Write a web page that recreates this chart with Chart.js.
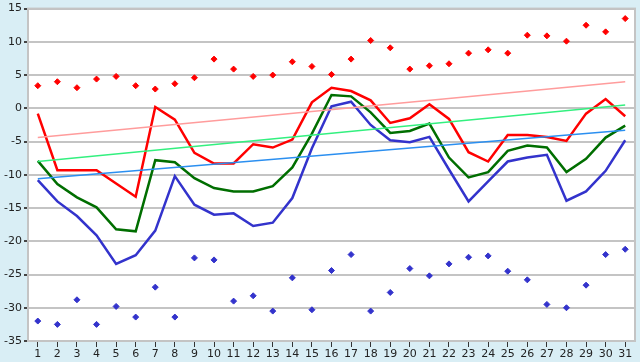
<!DOCTYPE html>
<html>
<head>
<meta charset="utf-8">
<script src="https://cdn.jsdelivr.net/npm/chart.js@4/dist/chart.umd.min.js"></script>
<style>
  html, body { margin: 0; padding: 0; background: #d9eef5; }
  #wrap { width: 640px; height: 362px; position: relative; }
</style>
</head>
<body>
<div id="wrap"><canvas id="grafica"></canvas></div>
<script>
// --- DATOS ---
const dias = [1,2,3,4,5,6,7,8,9,10,11,12,13,14,15,16,17,18,19,20,21,22,23,24,25,26,27,28,29,30,31];
const yTicks = [-35,-30,-25,-20,-15,-10,-5,0,5,10,15];

const maxima = [-0.8,-9.3,-9.3,-9.3,-11.3,-13.3,0.2,-1.7,-6.7,-8.3,-8.3,-5.4,-5.9,-4.7,0.9,3.1,2.6,1.2,-2.2,-1.5,0.6,-1.6,-6.6,-8.0,-4.0,-4.0,-4.3,-4.9,-0.8,1.4,-1.2];
const media  = [-7.9,-11.4,-13.4,-14.9,-18.2,-18.5,-7.8,-8.1,-10.5,-12.0,-12.5,-12.5,-11.7,-8.9,-3.8,2.0,1.8,-0.6,-3.7,-3.4,-2.3,-7.4,-10.4,-9.6,-6.4,-5.6,-5.9,-9.6,-7.6,-4.4,-2.6];
const minima = [-10.8,-14.0,-16.2,-19.1,-23.4,-22.1,-18.4,-10.2,-14.5,-16.0,-15.8,-17.7,-17.2,-13.5,-6.0,0.3,1.0,-2.5,-4.8,-5.1,-4.3,-9.2,-14.0,-11.0,-8.0,-7.4,-7.0,-13.9,-12.5,-9.4,-4.8];
const recordMax = [3.4,4.0,3.1,4.4,4.8,3.4,2.9,3.7,4.6,7.4,5.9,4.8,5.0,7.0,6.3,5.1,7.4,10.2,9.1,5.9,6.4,6.7,8.3,8.8,8.3,11.0,10.9,10.1,12.5,11.5,13.5];
const recordMin = [-32.0,-32.5,-28.8,-32.5,-29.8,-31.4,-26.9,-31.4,-22.5,-22.8,-29.0,-28.2,-30.5,-25.5,-30.3,-24.4,-22.0,-30.5,-27.7,-24.1,-25.2,-23.4,-22.4,-22.2,-24.5,-25.8,-29.5,-30.0,-26.6,-22.0,-21.2];

// tendencias: solo extremos (dia 1 y dia 31)
const tendMax   = [-4.4, 4.0];
const tendMedia = [-8.0, 0.5];
const tendMin   = [-10.6, -3.3];

function extremos(par) {
    const arr = Array(dias.length).fill(null);
    arr[0] = par[0];
    arr[dias.length - 1] = par[1];
    return arr;
}

// fondo blanco y marco del area de trazado
const marcoPlugin = {
    id: 'marco',
    beforeDraw(chart) {
        const { ctx, chartArea: a } = chart;
        ctx.save();
        ctx.fillStyle = '#ffffff';
        ctx.fillRect(a.left, a.top, a.right - a.left, a.bottom - a.top);
        ctx.restore();
    },
    afterDatasetsDraw(chart) {
        const { ctx, chartArea: a } = chart;
        ctx.save();
        ctx.strokeStyle = '#c4c4c4';
        ctx.lineWidth = 2;
        ctx.strokeRect(a.left, a.top, a.right - a.left, a.bottom - a.top);
        ctx.restore();
    }
};

function linea(data, color, ancho) {
    return { type: 'line', data, borderColor: color, backgroundColor: color, borderWidth: ancho,
             pointRadius: 0, tension: 0, fill: false, spanGaps: true };
}
function puntos(data, color) {
    return { type: 'line', data, showLine: false, borderColor: color, backgroundColor: color,
             pointStyle: 'rectRot', pointRadius: 3, borderWidth: 1 };
}

const ctx = document.getElementById('grafica').getContext('2d');
new Chart(ctx, {
    type: 'line',
    data: {
        labels: dias,
        datasets: [
            linea(extremos(tendMax), '#ff9c9c', 1.4),
            linea(extremos(tendMedia), '#33f07f', 1.4),
            linea(extremos(tendMin), '#2b8ff0', 1.4),
            linea(maxima, '#ff0000', 2.5),
            linea(media, '#006e00', 2.5),
            linea(minima, '#3333cc', 2.5),
            puntos(recordMax, '#ff0000'),
            puntos(recordMin, '#3333cc')
        ]
    },
    options: {
        responsive: true,
        maintainAspectRatio: false,
        animation: false,
        layout: { padding: { top: 5, right: 5, left: 0, bottom: 0 } },
        plugins: { legend: { display: false }, tooltip: { enabled: false } },
        scales: {
            x: {
                offset: true,
                grid: { drawOnChartArea: false, drawTicks: true, tickLength: 6, color: '#333333', offset: false },
                border: { color: '#c4c4c4', width: 2 },
                ticks: { color: '#222222', font: { family: 'DejaVu Sans', size: 11 }, padding: 1, maxRotation: 0, autoSkip: false },
                afterFit(s) { s.height = 21; }
            },
            y: {
                min: -35, max: 15,
                afterBuildTicks(s) { s.ticks = yTicks.map(v => ({ value: v })); },
                grid: { color: '#c4c4c4', lineWidth: 2, tickLength: 4, tickColor: '#444444' },
                border: { color: '#c4c4c4', width: 2 },
                ticks: { color: '#222222', font: { family: 'DejaVu Sans', size: 11 }, padding: 2 },
                afterFit(s) { s.width = 28; }
            }
        }
    },
    plugins: [marcoPlugin]
});
</script>
</body>
</html>
